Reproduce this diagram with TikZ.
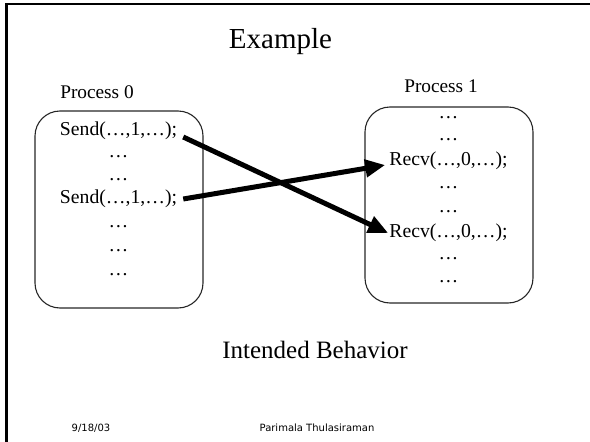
\documentclass[tikz,border=0pt]{standalone}
\usepackage{fontspec}
\setmainfont{Liberation Serif}
\newfontfamily\footfont{DejaVu Sans}
\usetikzlibrary{arrows.meta}

\tikzset{
  procbox/.style={draw=black!85, line width=1.1pt, rounded corners=25pt,
    inner sep=0pt},
  codeline/.style={anchor=base, inner sep=0pt,
    font=\fontsize{19.7}{22}\selectfont},
  plabel/.style={anchor=base, inner sep=0pt,
    font=\fontsize{19.3}{22}\selectfont},
  msg/.style={line width=5pt, -{Triangle[length=20pt,width=17pt]}},
  footer/.style={anchor=base, inner sep=0pt,
    font=\footfont\fontsize{10}{12}\selectfont},
}

\begin{document}
\begin{tikzpicture}[x=1pt, y=-1pt]
  \useasboundingbox (0,0) rectangle (590,442);

  % slide frame: top and left rules
  \draw[line width=2.2pt] (6.5,442) -- (6.5,4.3) -- (590,4.3);

  % title
  \node[anchor=base, inner sep=0pt, font=\fontsize{29}{32}\selectfont]
    (title) at (280.5,48) {Example};

  % process boxes
  \node[procbox, minimum width=168pt, minimum height=197pt]
    (p0) at (119,209.5) {};
  \node[procbox, minimum width=168pt, minimum height=196pt]
    (p1) at (449,205) {};

  \node[plabel] (l0) at (97,98) {Process 0};
  \node[plabel] (l1) at (441,92) {Process 1};

  % process 0 code
  \node[codeline] (s1) at (118.5,135) {Send(\dots,1,\dots);};
  \node[codeline] (a1) at (118.5,157) {\dots};
  \node[codeline] (a2) at (118.5,180) {\dots};
  \node[codeline] (s2) at (118.5,203) {Send(\dots,1,\dots);};
  \node[codeline] (a3) at (118.5,227) {\dots};
  \node[codeline] (a4) at (118.5,251) {\dots};
  \node[codeline] (a5) at (118.5,275) {\dots};

  % process 1 code
  \node[codeline] (b1) at (448.5,118) {\dots};
  \node[codeline] (b2) at (448.5,140) {\dots};
  \node[codeline] (r1) at (448.5,165) {Recv(\dots,0,\dots);};
  \node[codeline] (b3) at (448.5,188) {\dots};
  \node[codeline] (b4) at (448.5,212) {\dots};
  \node[codeline] (r2) at (448.5,237) {Recv(\dots,0,\dots);};
  \node[codeline] (b5) at (448.5,259) {\dots};
  \node[codeline] (b6) at (448.5,282) {\dots};

  % messages
  \draw[msg] ([xshift=6pt, yshift=-2pt]s1.base east)
          -- ([xshift=-1pt, yshift=4pt]r2.base west);
  \draw[msg] ([xshift=6pt, yshift=4pt]s2.base east)
          -- ([xshift=-4pt, yshift=0pt]r1.base west);

  % caption
  \node[anchor=base, inner sep=0pt, font=\fontsize{25}{28}\selectfont]
    (cap) at (315,358) {Intended Behavior};

  % footer
  \node[footer] (date) at (91,431) {9/18/03};
  \node[footer] (auth) at (317,431) {Parimala Thulasiraman};
\end{tikzpicture}
\end{document}
